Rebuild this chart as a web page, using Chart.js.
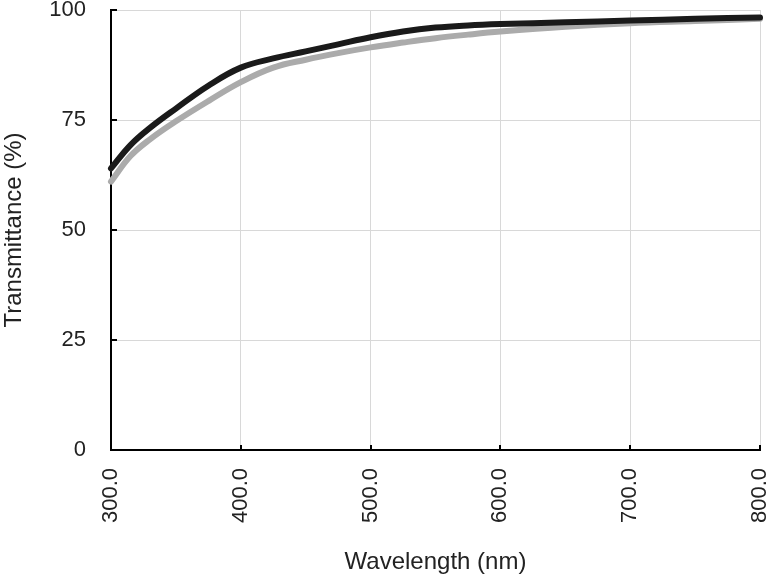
<!DOCTYPE html>
<html>
<head>
<meta charset="utf-8">
<script src="https://cdn.jsdelivr.net/npm/chart.js@4/dist/chart.umd.min.js"></script>
<style>
  html, body { margin: 0; padding: 0; background: #ffffff; }
  #wrap { width: 771px; height: 578px; position: relative; }
</style>
</head>
<body>
<div id="wrap"><canvas id="c" width="771" height="578"></canvas></div>
<script>
// Wavelength sample points (nm)
const wavelengths = [300, 315, 330, 350, 375, 400, 425, 450, 475, 500, 525, 550, 575, 600, 650, 700, 750, 800];
// Black curve transmittance (%)
const seriesBlack = [64.0, 69.3, 73.2, 77.6, 82.8, 86.9, 89.0, 90.6, 92.2, 93.8, 95.1, 96.0, 96.5, 96.8, 97.2, 97.6, 98.0, 98.3];
// Gray curve transmittance (%)
const seriesGray = [61.0, 66.8, 70.6, 74.7, 79.3, 83.6, 86.9, 88.7, 90.2, 91.5, 92.6, 93.6, 94.4, 95.1, 96.2, 97.0, 97.5, 98.0];
// Axis ticks
const xTicks = [300, 400, 500, 600, 700, 800];
const yTicks = [0, 25, 50, 75, 100];

const FONT = '"Liberation Sans", Arial, Helvetica, sans-serif';

const toPoints = (ys) => wavelengths.map((w, i) => ({ x: w, y: ys[i] }));

const innerTicks = {
  id: 'innerTicks',
  afterDraw(chart) {
    const ctx = chart.ctx;
    const xs = chart.scales.x, ys = chart.scales.y;
    const area = chart.chartArea;
    ctx.save();
    ctx.strokeStyle = '#000';
    ctx.lineWidth = 2;
    ctx.beginPath();
    yTicks.forEach(v => {
      const py = Math.round(ys.getPixelForValue(v));
      ctx.moveTo(area.left, py);
      ctx.lineTo(area.left + 6, py);
    });
    xTicks.forEach(v => {
      const px = Math.round(xs.getPixelForValue(v));
      ctx.moveTo(px, area.bottom);
      ctx.lineTo(px, area.bottom - 5);
    });
    ctx.stroke();
    ctx.restore();
  }
};

new Chart(document.getElementById('c'), {
  type: 'line',
  data: {
    datasets: [
      {
        label: 'Black',
        data: toPoints(seriesBlack),
        borderColor: '#1a1a1a',
        borderWidth: 6,
        pointRadius: 0,
        tension: 0.4,
        borderCapStyle: 'round',
        borderJoinStyle: 'round',
        fill: false,
        clip: false
      },
      {
        label: 'Gray',
        data: toPoints(seriesGray),
        borderColor: '#ababab',
        borderWidth: 6,
        pointRadius: 0,
        tension: 0.4,
        borderCapStyle: 'round',
        borderJoinStyle: 'round',
        fill: false,
        clip: false
      }
    ]
  },
  options: {
    responsive: false,
    animation: false,
    layout: { padding: { top: 10, right: 11, left: 0, bottom: 0 } },
    plugins: { legend: { display: false }, tooltip: { enabled: false } },
    scales: {
      x: {
        type: 'linear',
        min: 300,
        max: 800,
        afterBuildTicks(scale) { scale.ticks = xTicks.map(v => ({ value: v })); },
        afterFit(scale) {
          scale.height = 128;
          scale.paddingLeft = 0; scale.paddingRight = 0;
        },
        grid: { color: '#d8d8d8', lineWidth: 1, drawTicks: false },
        border: { color: '#000', width: 2 },
        ticks: {
          padding: 18,
          minRotation: 90,
          maxRotation: 90,
          color: '#222',
          font: { family: FONT, size: 22 },
          callback: (v) => Number(v).toFixed(1)
        },
        title: {
          display: true,
          text: 'Wavelength (nm)',
          color: '#222',
          font: { family: FONT, size: 24 },
          padding: { top: 0, bottom: 1 }
        }
      },
      y: {
        min: 0,
        max: 100,
        afterBuildTicks(scale) { scale.ticks = yTicks.map(v => ({ value: v })); },
        afterFit(scale) {
          scale.width = 111;
          scale.paddingTop = 0; scale.paddingBottom = 0;
        },
        grid: { color: '#d8d8d8', lineWidth: 1, drawTicks: false },
        border: { color: '#000', width: 2 },
        ticks: {
          padding: 25,
          color: '#222',
          font: { family: FONT, size: 22 }
        },
        title: {
          display: true,
          text: 'Transmittance (%)',
          color: '#222',
          font: { family: FONT, size: 24 },
          padding: { top: 0, bottom: 0 }
        }
      }
    }
  },
  plugins: [innerTicks]
});
</script>
</body>
</html>
